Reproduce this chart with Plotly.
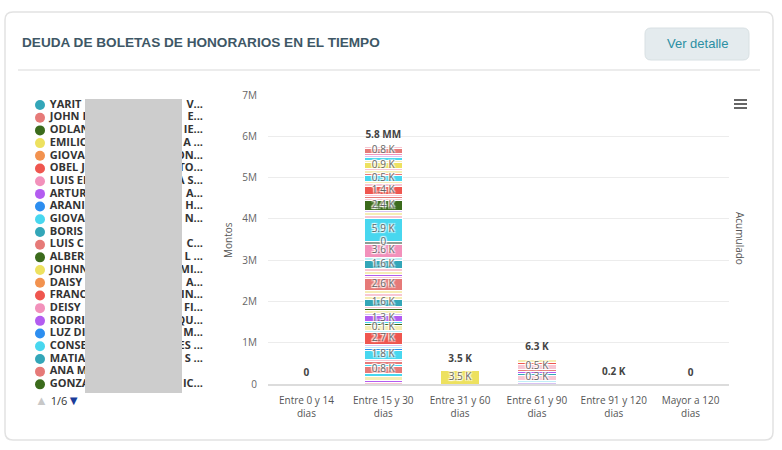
import plotly.graph_objects as go

W, H = 782, 450

# ---------------- data ----------------
categories = ["Entre 0 y 14<br>dias", "Entre 15 y 30<br>dias", "Entre 31 y 60<br>dias",
              "Entre 61 y 90<br>dias", "Entre 91 y 120<br>dias", "Mayor a 120<br>dias"]

# stacked segments, bottom -> top (values in pesos)
seg_15_30_values = [48000, 48000, 97000, 73000, 169000, 48000, 73000, 48000, 218000, 48000,
                    48000, 48000, 291000, 48000, 121000, 48000, 48000, 145000, 48000, 73000,
                    48000, 48000, 169000, 73000, 73000, 73000, 291000, 48000, 48000, 73000,
                    73000, 194000, 73000, 315000, 73000, 557000, 73000, 73000, 48000, 242000,
                    48000, 48000, 48000, 194000, 73000, 48000, 145000, 48000, 73000, 48000,
                    145000, 48000, 73000, 48000, 48000, 121000, 48000]
seg_15_30_labels = ["", "", "", "", "0.8 K", "", "", "", "1.8 K", "",
                    "", "", "2.7 K", "", "0.1 K", "", "", "1.3 K", "", "",
                    "", "", "1.6 K", "", "", "", "2.6 K", "", "", "",
                    "", "1.6 K", "", "3.6 K", "0", "5.9 K", "", "", "", "2.4 K",
                    "", "", "", "1.4 K", "", "", "0.5 K", "", "", "",
                    "0.9 K", "", "", "", "", "0.8 K", ""]
seg_31_60_values = [330000]
seg_31_60_labels = ["3.5 K"]
seg_61_90_values = [48000, 48000, 121000, 48000, 48000, 48000, 121000, 48000, 73000, 24000]
seg_61_90_labels = ["", "", "0.3 K", "", "", "", "0.5 K", "", "", ""]
seg_91_120_values = [5000]
seg_91_120_labels = [""]

total_labels = ["0", "5.8 MM", "3.5 K", "6.3 K", "0.2 K", "0"]

legend_name_start = ["YARIT", "JOHN I", "ODLAN", "EMILIO", "GIOVA", "OBEL J", "LUIS EI", "ARTUR",
                     "ARANI", "GIOVA", "BORIS", "LUIS C", "ALBERT", "JOHNN", "DAISY", "FRANC",
                     "DEISY", "RODRI", "LUZ DI", "CONSE", "MATIA", "ANA M", "GONZA"]
legend_name_end = ["V...", "E...", "IE...", "A ...", "ON...", "TO...", "A S...", "A...",
                   "H...", "N...", "", "C...", "L ...", "MI...", "A...", "IN...",
                   "FI...", "QU...", "M...", "ES ...", "S ...", "", "IC..."]
legend_page = "1/6"

# ---------------- styles ----------------
C = {'teal': '#33a6b8', 'salmon': '#e67a78', 'green': '#3b6b1c', 'yellow': '#ede15f',
     'orange': '#f2924f', 'red': '#ef564f', 'pink': '#f291bb', 'purple': '#b35cf0',
     'blue': '#2d8ef0', 'cyan': '#48d7ef', 'lpink': '#f7c6d3', 'lyellow': '#f5edb5',
     'lpurple': '#d8c3f3', 'lcyan': '#bfeef6', 'gray': '#8f9c93'}
palette = ['teal', 'salmon', 'green', 'yellow', 'orange', 'red', 'pink', 'purple', 'blue', 'cyan']

seg_15_30_colors = ['lpink', 'purple', 'lyellow', 'cyan', 'salmon', 'cyan', 'salmon', 'lpink', 'cyan', 'blue',
                    'lcyan', 'lpurple', 'red', 'lcyan', 'lyellow', 'green', 'cyan', 'purple', 'lpurple', 'lyellow',
                    'green', 'lpink', 'teal', 'lyellow', 'lpink', 'lyellow', 'salmon', 'lpink', 'purple', 'lyellow',
                    'lpink', 'teal', 'lcyan', 'pink', 'gray', 'cyan', 'lpink', 'lyellow', 'lpurple', 'green',
                    'lpink', 'salmon', 'lpink', 'red', 'lpink', 'lyellow', 'cyan', 'salmon', 'lyellow', 'lpink',
                    'yellow', 'lyellow', 'cyan', 'lpurple', 'pink', 'salmon', 'lpink']
seg_31_60_colors = ['yellow']
seg_61_90_colors = ['lpurple', 'lcyan', 'lpink', 'teal', 'purple', 'salmon', 'lpink', 'red', 'lyellow', 'gray']
seg_91_120_colors = ['cyan']

FONT = "Open Sans, Lato, sans-serif"


def X(px):
    return px / W


def Y(py):
    return 1 - py / H


def rrect(x0, y0, x1, y1, r):
    return (f"M{X(x0+r)},{Y(y0)} L{X(x1-r)},{Y(y0)} Q{X(x1)},{Y(y0)} {X(x1)},{Y(y0+r)} "
            f"L{X(x1)},{Y(y1-r)} Q{X(x1)},{Y(y1)} {X(x1-r)},{Y(y1)} "
            f"L{X(x0+r)},{Y(y1)} Q{X(x0)},{Y(y1)} {X(x0)},{Y(y1-r)} "
            f"L{X(x0)},{Y(y0+r)} Q{X(x0)},{Y(y0)} {X(x0+r)},{Y(y0)} Z")


fig = go.Figure()

groups = [
    (categories[1], seg_15_30_values, seg_15_30_colors, seg_15_30_labels),
    (categories[2], seg_31_60_values, seg_31_60_colors, seg_31_60_labels),
    (categories[3], seg_61_90_values, seg_61_90_colors, seg_61_90_labels),
    (categories[4], seg_91_120_values, seg_91_120_colors, seg_91_120_labels),
]

fig.add_trace(go.Bar(x=[categories[0], categories[5]], y=[0, 0], showlegend=False,
                     marker_color=C['teal'], hoverinfo='skip'))

lab_x, lab_y, lab_t = [], [], []
totals = {c: 0 for c in categories}
for cat, vals, cols, labs in groups:
    cum = 0
    for v, col, lab in zip(vals, cols, labs):
        fig.add_trace(go.Bar(x=[cat], y=[v], marker=dict(color=C[col], line=dict(color='white', width=1)),
                             showlegend=False, hoverinfo='skip'))
        if lab:
            lab_x.append(cat)
            lab_y.append(cum + v / 2)
            lab_t.append(lab)
        cum += v
    totals[cat] = cum

fig.add_trace(go.Scatter(
    x=lab_x, y=lab_y, text=lab_t, mode='text', textposition='middle center', showlegend=False,
    hoverinfo='skip', cliponaxis=False,
    textfont=dict(family=FONT, size=10, color='#666666',
                  shadow='1px 1px 1px #fff, -1px -1px 1px #fff, 1px -1px 1px #fff, -1px 1px 1px #fff')))

fig.add_trace(go.Scatter(
    x=categories, y=[totals[c] for c in categories], text=total_labels, mode='markers+text',
    marker=dict(size=8, opacity=0), textposition='top center', showlegend=False, hoverinfo='skip',
    cliponaxis=False, textfont=dict(family=FONT, size=10, color='#444444', weight='bold')))

# custom legend (on its own hidden axes)
n_leg = len(legend_name_start)
leg_idx = list(range(n_leg))
leg_colors = [C[palette[i % len(palette)]] for i in leg_idx]
fig.add_trace(go.Scatter(
    x=[0] * n_leg, y=leg_idx, mode='markers', marker=dict(size=10, color=leg_colors),
    xaxis='x2', yaxis='y2', showlegend=False, hoverinfo='skip', cliponaxis=False))
fig.add_trace(go.Scatter(
    x=[0.06] * n_leg, y=leg_idx, mode='text', text=legend_name_start, textposition='middle right',
    xaxis='x2', yaxis='y2', showlegend=False, hoverinfo='skip', cliponaxis=False,
    textfont=dict(family=FONT, size=11, color='#333333', weight='bold')))
fig.add_trace(go.Scatter(
    x=[1] * n_leg, y=leg_idx, mode='text', text=legend_name_end, textposition='middle left',
    xaxis='x2', yaxis='y2', showlegend=False, hoverinfo='skip', cliponaxis=False,
    textfont=dict(family=FONT, size=11, color='#333333', weight='bold')))

shapes = [
    dict(type='path', path=rrect(5, 12, 773, 440, 8), xref='paper', yref='paper',
         line=dict(color='#e2e2e2', width=1.5), fillcolor='rgba(0,0,0,0)', layer='below'),
    dict(type='line', xref='paper', yref='paper', x0=X(18), x1=X(760), y0=Y(70), y1=Y(70),
         line=dict(color='#ececec', width=2)),
    dict(type='path', path=rrect(645, 28, 749, 60, 6), xref='paper', yref='paper',
         line=dict(color='#d8e0e3', width=1), fillcolor='#e4ebee'),
    # blurred (pixelated) part of the legend names
    dict(type='rect', xref='paper', yref='paper', x0=X(85), x1=X(182), y0=Y(393), y1=Y(99),
         fillcolor='#cdcdcd', line=dict(width=0), layer='above'),
]
for py in (100, 104, 108):
    shapes.append(dict(type='line', xref='paper', yref='paper', x0=X(734), x1=X(747), y0=Y(py), y1=Y(py),
                       line=dict(color='#666666', width=2)))

annotations = [
    dict(text='<b>DEUDA DE BOLETAS DE HONORARIOS EN EL TIEMPO</b>', x=X(20), y=Y(42), xref='paper',
         yref='paper', xanchor='left', yanchor='middle', showarrow=False,
         font=dict(family='Liberation Sans, Arial, sans-serif', size=13.6, color='#3e5766')),
    dict(text='Ver detalle', x=X(697), y=Y(44), xref='paper', yref='paper', xanchor='center',
         yanchor='middle', showarrow=False, font=dict(family='Liberation Sans, Arial, sans-serif', size=13,
                                                       color='#2b8fa3')),
    dict(text='Montos', x=X(228), y=Y(240), xref='paper', yref='paper', textangle=-90, showarrow=False,
         xanchor='center', yanchor='middle', font=dict(family=FONT, size=10, color='#555555')),
    dict(text='Acumulado', x=X(740), y=Y(238), xref='paper', yref='paper', textangle=90, showarrow=False,
         xanchor='center', yanchor='middle', font=dict(family=FONT, size=10, color='#555555')),
    dict(text=(f'<span style="color:#c8c8c8;font-size:13px">▲</span> {legend_page}'
               f'<span style="color:#1a3d99;font-size:13px">▼</span>'),
         x=X(33), y=Y(400), xref='paper', yref='paper', xanchor='left', yanchor='middle', showarrow=False,
         font=dict(family=FONT, size=11, color='#333333')),
]

fig.update_layout(
    template='none',
    width=W, height=H, margin=dict(l=0, r=0, t=0, b=0, pad=0, autoexpand=False),
    paper_bgcolor='white', plot_bgcolor='white',
    barmode='stack', bargap=0.5,
    showlegend=False,
    xaxis=dict(domain=[X(268), X(729)], type='category', categoryorder='array', categoryarray=categories,
               showgrid=False, showline=True, linecolor='#dcdcdc', linewidth=2, ticks='', automargin=False,
               ticklabelstandoff=6, zeroline=False,
               tickfont=dict(family=FONT, size=10, color='#555555'), fixedrange=True),
    yaxis=dict(domain=[Y(384), Y(95)], range=[0, 7e6], dtick=1e6, tickformat='~s', automargin=False,
               showgrid=True, gridcolor='#ececec', gridwidth=1, zeroline=False, showline=False, ticks='',
               tickfont=dict(family=FONT, size=10, color='#666666'), ticklabelstandoff=10, fixedrange=True),
    xaxis2=dict(domain=[X(40), X(203)], range=[0, 1], visible=False, anchor='y2', fixedrange=True),
    yaxis2=dict(domain=[Y(390.7), Y(98.65)], range=[n_leg - 0.5, -0.5], visible=False, anchor='x2',
                fixedrange=True),
    shapes=shapes, annotations=annotations,
    font=dict(family=FONT),
)

fig.write_html("out.html", config={'displayModeBar': False},
               post_script="document.body.style.margin='0';document.body.style.padding='0';")
